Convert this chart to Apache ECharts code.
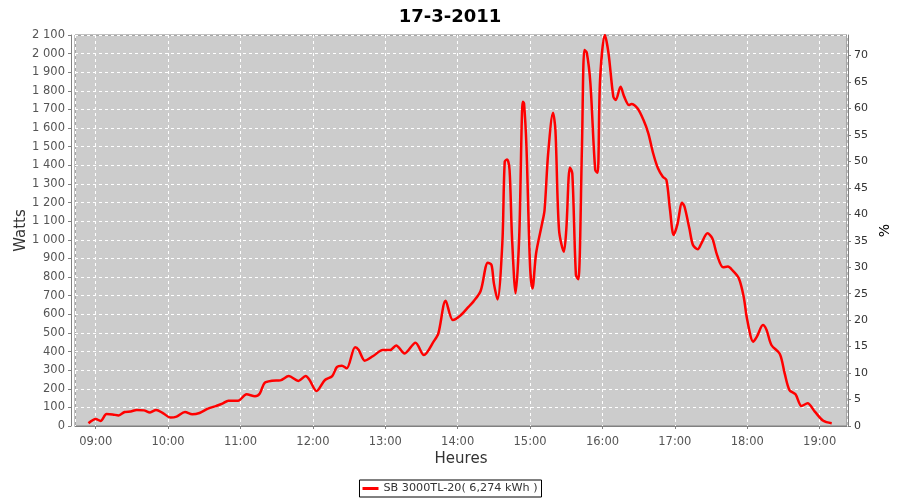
<!DOCTYPE html>
<html>
<head>
<meta charset="utf-8">
<script src="https://cdn.jsdelivr.net/npm/echarts@6/dist/echarts.min.js"></script>
<style>html,body{margin:0;padding:0;background:#fff}#c{width:900px;height:500px}</style>
</head>
<body>
<div id="c"></div>
<script>
var day = '2011-03-17';
var times = ['08:54','09:00','09:04','09:09','09:14','09:19','09:24','09:29','09:34','09:40','09:45','09:50','09:56',
'10:02','10:07','10:14','10:20','10:26','10:33','10:40','10:45','10:50','10:58',
'11:05','11:12','11:16','11:20','11:26','11:33','11:40','11:48','11:54','11:57',
'12:03','12:10','12:16','12:20','12:24','12:28','12:35','12:38','12:43','12:50','12:58',
'13:04','13:09','13:16','13:25','13:32','13:40','13:44','13:50','13:56',
'14:02','14:09','14:13','14:19','14:25','14:28','14:30','14:33','14:37','14:39','14:41','14:43','14:45','14:48','14:51','14:54','14:55','14:57',
'15:00','15:02','15:05','15:10','15:12','15:15','15:19','15:21','15:24','15:28','15:30','15:33','15:35','15:38','15:40','15:43','15:45','15:47','15:50','15:54','15:56','15:58',
'16:02','16:05','16:09','16:11','16:15','16:18','16:22','16:24','16:29','16:34','16:38','16:42','16:46','16:50','16:53','16:56','16:59',
'17:02','17:06','17:08','17:12','17:15','17:19','17:22','17:27','17:31','17:35','17:40','17:44','17:48','17:53','17:57',
'18:00','18:05','18:08','18:13','18:16','18:20','18:27','18:31','18:35','18:40','18:45','18:50','18:56',
'19:03','19:10'];
var watts = [15,38,27,64,62,57,75,78,86,84,73,86,68,
45,50,75,63,70,93,108,120,136,136,
170,160,175,232,243,245,268,242,268,250,
188,247,268,318,324,310,423,408,351,376,408,
408,433,390,447,381,453,498,673,569,
592,640,668,725,877,865,766,680,981,1420,1432,1375,1017,713,1017,1742,1733,1500,
856,739,928,1089,1160,1465,1683,1590,1053,936,1053,1389,1357,811,788,1500,2019,2005,1840,1375,1360,1858,
2100,2002,1769,1751,1822,1769,1724,1729,1706,1643,1572,1465,1384,1339,1321,1160,1026,
1080,1199,1178,1062,972,949,981,1035,1008,918,852,856,834,793,695,
569,453,480,542,516,435,387,283,193,170,107,122,77,
28,15];
var seriesName = 'SB 3000TL-20( 6,274 kWh )';
var titleText = '17-3-2011';

var data = times.map(function (t, i) { return [day + ' ' + t, watts[i]]; });

function fmtW(v) {
  if (v >= 1000) {
    var r = String(v % 1000);
    while (r.length < 3) r = '0' + r;
    return Math.floor(v / 1000) + ' ' + r;
  }
  return String(v);
}
function pad(n) { return (n < 10 ? '0' : '') + n; }

var chart = echarts.init(document.getElementById('c'), null, { renderer: 'canvas' });
var font = 'DejaVu Sans';
chart.setOption({
  backgroundColor: '#ffffff',
  animation: false,
  textStyle: { fontFamily: font },
  title: {
    text: titleText, left: 'center', top: 3,
    textStyle: { fontFamily: font, fontSize: 18, fontWeight: 'bold', color: '#000' }
  },
  legend: {
    bottom: 3, left: 'center',
    borderColor: '#000', borderWidth: 1, borderRadius: 0,
    padding: [3, 4, 3, 3], itemWidth: 16, itemHeight: 3, itemGap: 4,
    icon: 'rect',
    backgroundColor: '#fff',
    textStyle: { fontFamily: font, fontSize: 11.2, color: '#333' }
  },
  grid: {
    left: 75, right: 53, top: 35, bottom: 74,
    show: true, backgroundColor: '#CCCCCC', borderColor: '#808080', borderWidth: 1
  },
  xAxis: {
    type: 'time',
    min: day + ' 08:42:50', max: day + ' 19:22:40',
    minInterval: 3600000, maxInterval: 3600000,
    offset: 4,
    name: 'Heures', nameLocation: 'middle', nameGap: 22, nameMoveOverlap: false,
    nameTextStyle: { fontFamily: font, fontSize: 15, color: '#333' },
    axisLine: { lineStyle: { color: '#808080' } },
    axisTick: { show: true, length: 3, lineStyle: { color: '#808080' } },
    minorTick: { show: false },
    axisLabel: {
      fontFamily: font, fontSize: 11.5, color: '#555', margin: 6,
      showMinLabel: false, showMaxLabel: false,
      formatter: function (v) { var d = new Date(v); return pad(d.getHours()) + ':' + pad(d.getMinutes()); }
    },
    splitLine: { show: true, lineStyle: { color: '#ffffff', type: [3, 3], width: 1 } }
  },
  yAxis: [{
    type: 'value', min: 0, max: 2100, interval: 100,
    offset: 4, position: 'left',
    name: 'Watts', nameLocation: 'middle', nameGap: 42, nameRotate: 90, nameMoveOverlap: false,
    nameTextStyle: { fontFamily: font, fontSize: 15, color: '#333' },
    axisLine: { show: true, lineStyle: { color: '#808080' } },
    axisTick: { show: true, length: 3, lineStyle: { color: '#808080' } },
    axisLabel: { fontFamily: font, fontSize: 11.5, color: '#555', margin: 6, formatter: fmtW },
    splitLine: { show: true, lineStyle: { color: '#ffffff', type: [3, 3], width: 1 } }
  }, {
    type: 'value', min: 0, max: 73.9, interval: 5,
    position: 'right', offset: 1,
    name: '%', nameLocation: 'middle', nameGap: 30, nameRotate: 90, nameMoveOverlap: false,
    nameTextStyle: { fontFamily: font, fontSize: 14, color: '#000' },
    axisLine: { show: true, lineStyle: { color: '#808080' } },
    axisTick: { show: true, length: 3, lineStyle: { color: '#808080' } },
    axisLabel: { fontFamily: font, fontSize: 11, color: '#333', margin: 6, showMaxLabel: false },
    splitLine: { show: false }
  }],
  series: [{
    name: seriesName, type: 'line', yAxisIndex: 0,
    data: data, showSymbol: false, smooth: 0.3,
    lineStyle: { color: '#ff0000', width: 2.5 },
    itemStyle: { color: '#ff0000' }
  }]
});
</script>
</body>
</html>
